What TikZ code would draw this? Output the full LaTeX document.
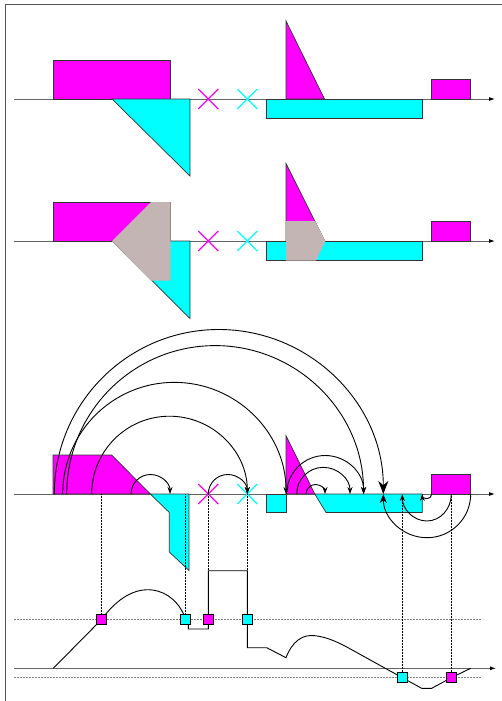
\documentclass[tikz,border=0pt]{standalone}
\usetikzlibrary{arrows.meta}
\definecolor{mag}{RGB}{255,0,255}
\definecolor{cya}{RGB}{0,255,255}
\definecolor{ovl}{RGB}{196,181,181}
\definecolor{framecol}{RGB}{85,85,85}
\definecolor{axcol}{RGB}{100,100,100}
\tikzset{
  axisline/.style={draw=axcol, line width=0.9pt, arrows={-{Latex[length=6pt,width=4pt,color=black]}}},
  magfill/.style={fill=mag, draw=black!80, line width=0.7pt, line join=miter},
  cyafill/.style={fill=cya, draw=black!80, line width=0.7pt, line join=miter},
  magx/.style={draw=mag, line width=1.3pt},
  cyax/.style={draw=cya, line width=1.3pt},
  arcline/.style={draw=black, line width=0.9pt, -{Stealth[length=7pt,width=5pt]}},
  midarc/.style={draw=black, line width=0.9pt, -{Stealth[length=9pt,width=7pt]}},
  bigarc/.style={draw=black, line width=0.9pt, -{Stealth[length=13pt,width=10pt]}},
  dropline/.style={draw=black, line width=0.5pt, densely dotted},
  guideline/.style={draw=gray, line width=0.5pt, dash pattern=on 2pt off 1pt},
  profile/.style={draw=black, line width=0.9pt, line join=miter},
  sqmark/.style={rectangle, minimum size=10pt, inner sep=0pt, draw=black, line width=0.7pt}
}
\begin{document}
\begin{tikzpicture}[x=1pt,y=1pt]
\useasboundingbox (0,0) rectangle (502,-701);
% frame
\draw[framecol, line width=1.2pt] (5.5,-701) -- (5.5,-4.7) -- (502,-4.7);

% ---------------- panel 1 ----------------
\draw[axisline] (14,-99) -- (495,-99);
\draw[magfill] (53,-60) rectangle (170,-99);
\draw[cyafill] (112,-99) -- (190,-99) -- (190,-176) -- cycle;
\draw[magx] (198.3,-89) -- (218.3,-109) (198.3,-109) -- (218.3,-89);
\draw[cyax] (237.3,-89) -- (257.3,-109) (237.3,-109) -- (257.3,-89);
\draw[cyafill] (266.7,-99) rectangle (422.3,-118.3);
\draw[magfill] (286,-21) -- (286,-99) -- (324.5,-99) -- cycle;
\draw[magfill] (431.7,-79) rectangle (470.7,-99);

% ---------------- panel 2 ----------------
\draw[axisline] (14,-241) -- (495,-241);
\draw[magfill] (53,-202) rectangle (170,-241);
\draw[cyafill] (112,-241) -- (190,-241) -- (190,-318.5) -- cycle;
\fill[ovl] (112,-241) -- (151,-202) -- (170.7,-202) -- (170.7,-280.7) -- (151,-280.7) -- cycle;
\draw[magx] (198.3,-231) -- (218.3,-251) (198.3,-251) -- (218.3,-231);
\draw[cyax] (237.3,-231) -- (257.3,-251) (237.3,-251) -- (257.3,-231);
\draw[cyafill] (266.7,-241) rectangle (422.3,-260.7);
\draw[magfill] (286,-163.5) -- (286,-241) -- (324.8,-241) -- cycle;
\fill[ovl] (286,-221) -- (315,-221) -- (325.3,-241) -- (316,-260.7) -- (286,-260.7) -- cycle;
\draw[magfill] (431.7,-221) rectangle (470.7,-241);

% ---------------- panel 3 ----------------
\draw[axisline] (14,-494) -- (495,-494);
\draw[magfill] (53,-455) -- (111.7,-455) -- (150.3,-494) -- (53,-494) -- cycle;
\draw[cyafill] (150.3,-494) -- (169.3,-512.5) -- (169.3,-552) -- (189,-570.5) -- (189,-494) -- cycle;
\draw[magx] (198.3,-484) -- (218.3,-504) (198.3,-504) -- (218.3,-484);
\draw[cyax] (237.3,-484) -- (257.3,-504) (237.3,-504) -- (257.3,-484);
\draw[cyafill] (266.7,-494) rectangle (286,-512.5);
\draw[magfill] (286,-435.7) -- (286,-494) -- (314.8,-494) -- cycle;
\draw[cyafill] (314.8,-494) -- (326,-512.5) -- (422.3,-512.5) -- (422.3,-494) -- cycle;
\draw[magfill] (431.7,-474.3) rectangle (470.7,-494);

% axis points
\coordinate (pA) at (54.3,-494);
\coordinate (pC) at (62.7,-494);
\coordinate (pB) at (66.7,-494);
\coordinate (pD) at (91.7,-494);
\coordinate (pE) at (131,-494);
\coordinate (pF) at (208.3,-494);
\coordinate (pT1) at (286.7,-494);
\coordinate (pT2) at (296.7,-494);
\coordinate (pT3) at (306,-494);
\coordinate (pL1) at (470.7,-494);
\coordinate (pL2) at (451.3,-494);
\coordinate (pL3) at (431.7,-494);

% upper arcs
\draw[bigarc] (pA) arc[start angle=180, end angle=0, radius=164.5];
\draw[arcline] (pB) arc[start angle=180, end angle=0, radius=148.4];
\draw[arcline] (pC) arc[start angle=180, end angle=0, radius=111.65];
\draw[arcline] (pD) arc[start angle=180, end angle=0, radius=77.8];
\draw[arcline] (pE) arc[start angle=180, end angle=0, radius=19.5];
\draw[arcline] (pF) arc[start angle=180, end angle=0, radius=19.5];
\draw[arcline] (pT1) arc[start angle=180, end angle=0, radius=38.5];
\draw[arcline] (pT2) arc[start angle=180, end angle=0, radius=26.65];
\draw[arcline] (pT3) arc[start angle=180, end angle=0, radius=9.5];
% lower arcs
\draw[midarc] (pL1) arc[start angle=0, end angle=-180, radius=43.7];
\draw[arcline] (pL2) arc[start angle=0, end angle=-180, x radius=24.5, y radius=27];
\draw[arcline] (pL3) arc[start angle=0, end angle=-180, radius=4.7];

% ---------------- lower plot ----------------
\draw[guideline] (14,-619.3) -- (481,-619.3);
\draw[guideline] (14,-677.7) -- (481,-677.7);
\draw[axisline] (14,-668.3) -- (496,-668.3);

\coordinate (q1) at (101.7,-619.3);
\coordinate (q2) at (185.7,-619.3);
\coordinate (q3) at (208.3,-619.3);
\coordinate (q4) at (247.3,-619.3);
\coordinate (q5) at (402.3,-677.7);
\coordinate (q6) at (451.3,-677.7);

% drop lines
\draw[dropline] (101.7,-494) -- (q1);
\draw[dropline] (185.7,-494) -- (q2);
\draw[dropline] (pF) -- (q3);
\draw[dropline] (247.3,-494) -- (q4);
\draw[dropline] (402.3,-497) -- (q5);
\draw[dropline] (pL2) -- (q6);

% profile curve
\draw[profile] (53.3,-668.3) -- (q1)
  .. controls (118,-597) and (136,-588) .. (152.3,-590)
  .. controls (168,-592) and (180,-603) .. (q2);
\draw[profile] (188.3,-619.3) -- (188.3,-629) -- (208.3,-629) -- (208.3,-570.7)
  -- (247.3,-570.7) -- (247.3,-647.7) -- (266.7,-647.7) -- (286,-657.7)
  .. controls (292,-642) and (302,-634) .. (315,-635.7)
  .. controls (326,-637) and (335,-641) .. (345,-646)
  -- (q5) -- (421.7,-688.3) -- (431.7,-688.3) -- (q6) -- (470.7,-668.3);

% squares
\node[sqmark, fill=mag] (s1) at (q1) {};
\node[sqmark, fill=cya] (s2) at (q2) {};
\node[sqmark, fill=mag] (s3) at (q3) {};
\node[sqmark, fill=cya] (s4) at (q4) {};
\node[sqmark, fill=cya] (s5) at (q5) {};
\node[sqmark, fill=mag] (s6) at (q6) {};
\end{tikzpicture}
\end{document}
